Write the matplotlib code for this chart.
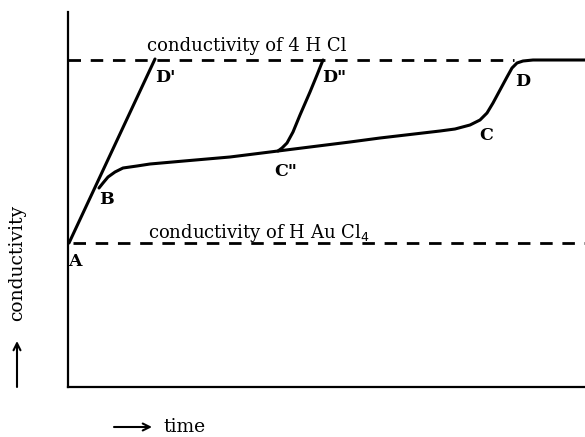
import matplotlib
matplotlib.use("Agg")
import matplotlib.pyplot as plt

# reading units: time / conductivity in arbitrary (picture) units
LEVEL_HAUCL4 = 144
LEVEL_HCL = 327

# fast rise A -> D'
fast_t = [1, 87]
fast_c = [144, 328]

# main curve B -> C" -> C -> D -> plateau
main_t = [31, 35, 40, 47, 55, 69, 82, 116, 162, 210, 282, 312, 372, 387,
          402, 412, 419, 425, 432, 439, 444, 449, 455, 465, 517]
main_c = [199, 204, 210, 215, 219, 221, 223, 226, 230, 236, 245, 249, 256, 258,
          262, 267, 274, 284, 297, 310, 319, 324, 326, 327, 327]

# branch from C" -> D"
branch_t = [210, 214, 219, 225, 232, 242, 249, 255]
branch_c = [236, 239, 244, 255, 272, 295, 312, 327]

labels = [("A", 7, 125), ("B", 39, 187), ("C\"", 218, 216), ("C", 418, 251),
          ("D'", 97, 309), ("D\"", 266, 309), ("D", 455, 306)]

SERIF = "DejaVu Serif"
W, H = 585, 437

fig = plt.figure(figsize=(5.85, 4.37), dpi=100)
ax = fig.add_axes([68 / W, 50 / H, 517 / W, 375 / H])
ax.set_xlim(0, 517)
ax.set_ylim(0, 375)
for s in ("top", "right"):
    ax.spines[s].set_visible(False)
for s in ("left", "bottom"):
    ax.spines[s].set_linewidth(1.6)
ax.set_xticks([])
ax.set_yticks([])

dash = dict(color="black", lw=2.0, dashes=(4.5, 3.5))
ax.plot([5, 517], [LEVEL_HAUCL4, LEVEL_HAUCL4], **dash)
ax.plot([0, 446], [LEVEL_HCL, LEVEL_HCL], **dash)

curve = dict(color="black", lw=2.2, solid_capstyle="round", solid_joinstyle="round")
ax.plot(fast_t, fast_c, **curve)
ax.plot(main_t, main_c, **curve)
ax.plot(branch_t, branch_c, **curve)

for txt, x, y in labels:
    ax.text(x, y, txt, family=SERIF, fontsize=12.5, fontweight="bold",
            ha="center", va="center")

ax.text(79, 341, "conductivity of 4 H Cl", family=SERIF, fontsize=13,
        ha="left", va="center")
ax.text(80, 154, "conductivity of H Au Cl$_4$", family=SERIF, fontsize=13,
        ha="left", va="center")

# axis captions with hand-drawn style arrows
fig.text(17 / W, 1 - 263 / H, "conductivity", family=SERIF, fontsize=13.5,
         rotation=90, ha="center", va="center")
arrow = dict(arrowstyle="->,head_length=0.5,head_width=0.25", color="black",
             lw=1.5, shrinkA=0, shrinkB=0)
fig.add_artist(plt.Annotation("", xy=(17 / W, 1 - 341 / H), xytext=(17 / W, 1 - 387 / H),
                              xycoords="figure fraction", textcoords="figure fraction",
                              arrowprops=arrow))
fig.add_artist(plt.Annotation("", xy=(152 / W, 1 - 427 / H), xytext=(114 / W, 1 - 427 / H),
                              xycoords="figure fraction", textcoords="figure fraction",
                              arrowprops=arrow))
fig.text(163 / W, 1 - 427 / H, "time", family=SERIF, fontsize=13.5,
         ha="left", va="center")

fig.savefig("out.png", dpi=100)
